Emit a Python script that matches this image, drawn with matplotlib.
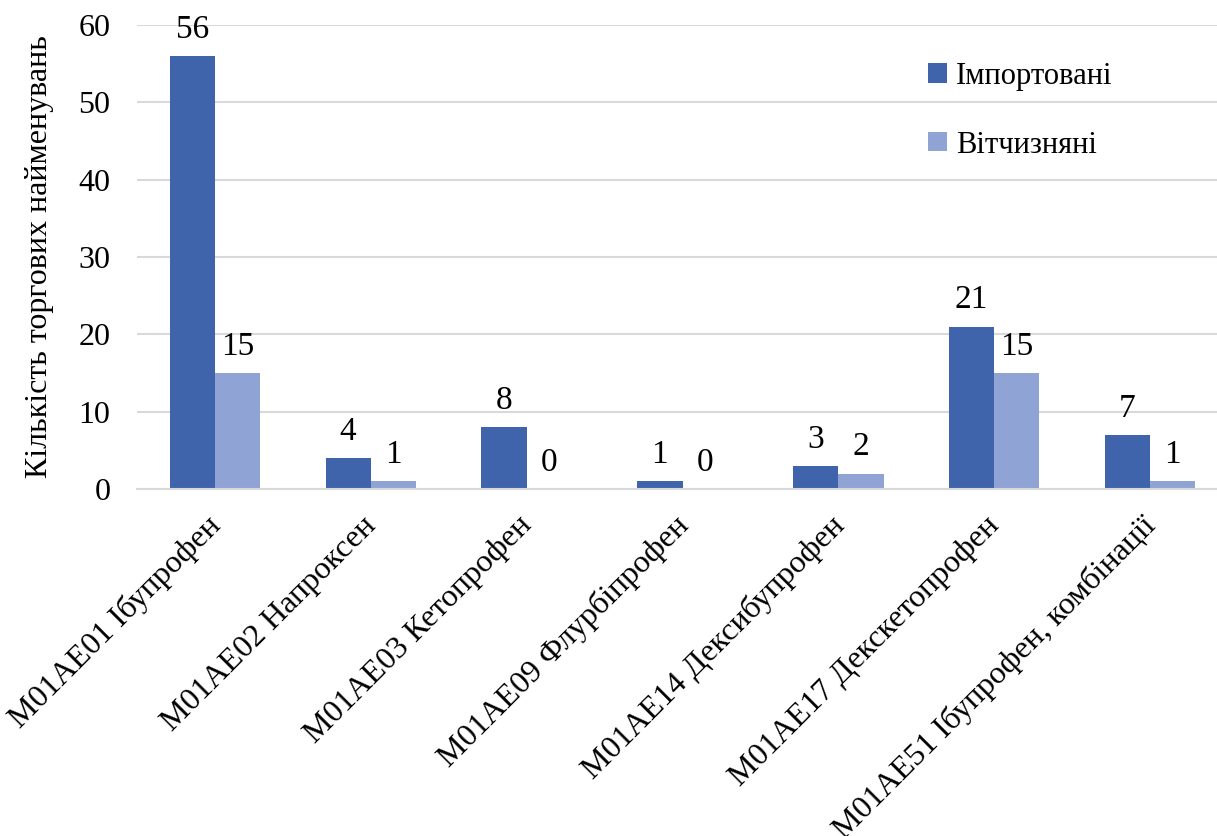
import matplotlib
matplotlib.use("Agg")
import matplotlib.pyplot as plt
import matplotlib.transforms as mtransforms
import numpy as np

categories = [
    "M01AE01 Ібупрофен",
    "M01AE02 Напроксен",
    "M01AE03 Кетопрофен",
    "M01AE09 Флурбіпрофен",
    "M01AE14 Дексибупрофен",
    "M01AE17 Декскетопрофен",
    "M01AE51 Ібупрофен, комбінації",
]
imported = [56, 4, 8, 1, 3, 21, 7]
domestic = [15, 1, 0, 0, 2, 15, 1]
series_names = ["Імпортовані", "Вітчизняні"]
y_ticks = [0, 10, 20, 30, 40, 50, 60]

plt.rcParams["font.family"] = ["Liberation Serif", "DejaVu Serif"]

W, H = 1217, 836
fig = plt.figure(figsize=(W / 100, H / 100), dpi=100)
ax = fig.add_axes([137 / W, 1 - 489 / H, (1228 - 137) / W, (489 - 25) / H])

dark = "#3F64AB"
light = "#8FA4D4"
grid_c = "#D9D9D9"
bw = 0.29
x = np.arange(len(categories))

b1 = ax.bar(x - bw / 2, imported, bw, color=dark, label=series_names[0], zorder=3)
b2 = ax.bar(x + bw / 2, domestic, bw, color=light, label=series_names[1], zorder=3)

for bars in (b1, b2):
    for rect in bars:
        v = rect.get_height()
        ax.annotate(f"{v:g}", (rect.get_x() + rect.get_width() / 2, v),
                    xytext=(0, 8), textcoords="offset points",
                    ha="center", va="bottom", fontsize=24, color="black")

ax.set_ylim(0, 60)
ax.set_yticks(y_ticks)
ax.set_xlim(-0.5, 6.5)
ax.yaxis.grid(True, color=grid_c, linewidth=1.5, zorder=0)
ax.set_axisbelow(True)
for s in ("top", "right", "left"):
    ax.spines[s].set_visible(False)
ax.spines["bottom"].set_color(grid_c)
ax.spines["bottom"].set_linewidth(1.5)
ax.spines["bottom"].set_zorder(4)
ax.tick_params(axis="y", length=0, labelsize=23, pad=19)
ax.tick_params(axis="x", length=0, labelsize=23, pad=8)

ax.set_xticks(x)
ax.set_xticklabels(categories, rotation=45, ha="right", va="top",
                   rotation_mode="anchor")
shift = mtransforms.ScaledTranslation(-9 / 100, -11 / 100, fig.dpi_scale_trans)
for lbl in ax.get_xticklabels():
    lbl.set_transform(lbl.get_transform() + shift)

ax.set_ylabel("Кількість торгових найменувань", fontsize=23, labelpad=18)

leg = ax.legend(loc="upper left", bbox_to_anchor=(0.7, 0.98),
                frameon=False, fontsize=22, handlelength=0.6,
                handleheight=0.6, handletextpad=0.3, labelspacing=1.3)

fig.savefig("out.png", dpi=100)
